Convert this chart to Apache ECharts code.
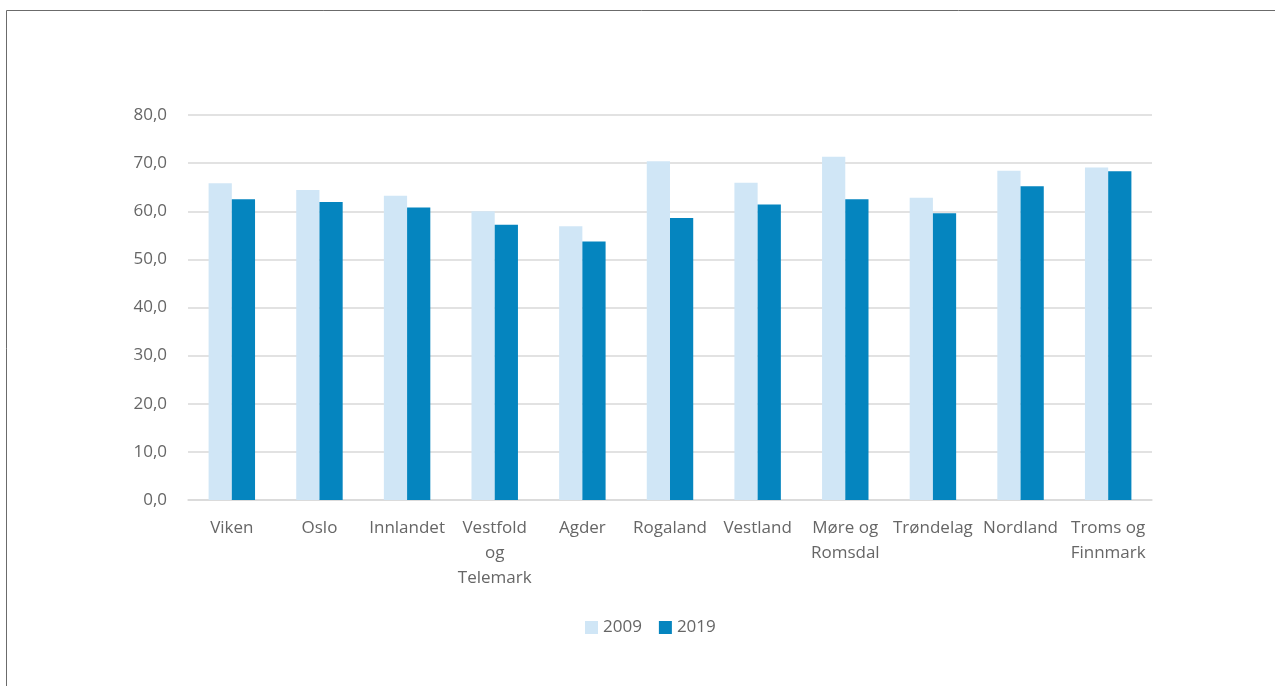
<!DOCTYPE html>
<html>
<head>
<meta charset="utf-8">
<script src="https://cdn.jsdelivr.net/npm/echarts@6/dist/echarts.min.js"></script>
<style>html,body{margin:0;padding:0;background:#fff}#c{width:1275px;height:686px}</style>
</head>
<body>
<div id="c"></div>
<script>
const categories = ['Viken','Oslo','Innlandet','Vestfold og Telemark','Agder','Rogaland','Vestland','Møre og Romsdal','Trøndelag','Nordland','Troms og Finnmark'];
const values2009 = [65.8,64.4,63.2,60.0,56.9,70.4,65.9,71.3,62.8,68.4,69.1];
const values2019 = [62.5,61.9,60.8,57.2,53.7,58.6,61.4,62.5,59.6,65.2,68.3];
const seriesNames = ['2009','2019'];
const labelBreaks = {'Vestfold og Telemark':'Vestfold\nog\nTelemark','Møre og Romsdal':'Møre og\nRomsdal','Troms og Finnmark':'Troms og\nFinnmark'};

const font = '"Open Sans", "Noto Sans", sans-serif';
const textColor = '#666666';
const chart = echarts.init(document.getElementById('c'));
chart.setOption({
  animation:false,
  textStyle:{fontFamily:font},
  graphic:[{type:'rect',shape:{x:6.5,y:10.5,width:1400,height:800},style:{fill:'none',stroke:'#6b6b6b',lineWidth:1},silent:true}],
  grid:{left:188,right:123,top:115,bottom:186},
  legend:{bottom:45,left:580,itemWidth:13,itemHeight:13,itemGap:17,icon:'rect',
    textStyle:{fontFamily:font,fontSize:17,color:textColor},data:seriesNames},
  xAxis:{type:'category',data:categories,
    axisLine:{lineStyle:{color:'#d9d9d9',width:1.5}},axisTick:{show:false},
    axisLabel:{interval:0,fontFamily:font,fontSize:17,color:textColor,lineHeight:25,margin:16,
      formatter:v=>labelBreaks[v]||v}},
  yAxis:{type:'value',min:0,max:80,interval:10,
    axisLine:{show:false},axisTick:{show:false},
    splitLine:{lineStyle:{color:'#d9d9d9',width:1.5}},
    axisLabel:{fontFamily:font,fontSize:17,color:textColor,margin:21,formatter:v=>v.toFixed(1).replace('.',',')}},
  series:[
    {name:seriesNames[0],type:'bar',data:values2009,barGap:'0%',barCategoryGap:'47%',itemStyle:{color:'#d0e6f6'}},
    {name:seriesNames[1],type:'bar',data:values2019,barGap:'0%',barCategoryGap:'47%',itemStyle:{color:'#0585bf'}}
  ]
});
</script>
</body>
</html>
